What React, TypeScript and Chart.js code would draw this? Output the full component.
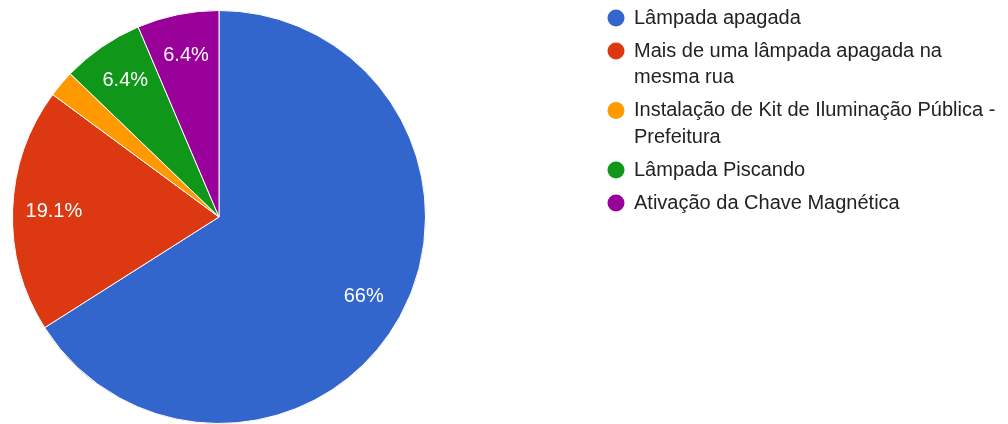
import React, { useEffect, useRef } from "react";
import { Chart, registerables } from "chart.js";

Chart.register(...registerables);

const categories: string[][] = [
  ["Lâmpada apagada"],
  ["Mais de uma lâmpada apagada na", "mesma rua"],
  ["Instalação de Kit de Iluminação Pública -", "Prefeitura"],
  ["Lâmpada Piscando"],
  ["Ativação da Chave Magnética"],
];
const percentages: number[] = [66, 19.1, 2.1, 6.4, 6.4];
const sliceLabels: string[] = ["66%", "19.1%", "", "6.4%", "6.4%"];
const colors: string[] = ["#3366cc", "#dc3912", "#ff9900", "#109618", "#990099"];

const FONT = '20px "Liberation Sans", Arial, sans-serif';

const sliceLabelPlugin = {
  id: "sliceLabels",
  afterDatasetsDraw(chart: any) {
    const ctx = chart.ctx;
    const meta = chart.getDatasetMeta(0);
    ctx.save();
    ctx.font = FONT;
    ctx.fillStyle = "#ffffff";
    ctx.textAlign = "center";
    ctx.textBaseline = "middle";
    meta.data.forEach((arc: any, i: number) => {
      const txt = sliceLabels[i];
      if (!txt) return;
      const p = arc.getProps(["x", "y", "startAngle", "endAngle", "outerRadius"], true);
      const mid = (p.startAngle + p.endAngle) / 2;
      const r = p.outerRadius * 0.8;
      ctx.fillText(txt, p.x + Math.cos(mid) * r, p.y + Math.sin(mid) * r);
    });
    ctx.restore();
  },
};

const legendPlugin = {
  id: "sideLegend",
  afterDraw(chart: any) {
    const ctx = chart.ctx;
    const labels = chart.data.labels as string[][];
    const bg = chart.data.datasets[0].backgroundColor as string[];
    const circleX = 616;
    const textX = 634;
    const lineH = 26.5;
    const itemGap = 33;
    let y = 18;
    ctx.save();
    ctx.font = FONT;
    ctx.textBaseline = "middle";
    ctx.textAlign = "left";
    labels.forEach((lines, i) => {
      ctx.beginPath();
      ctx.fillStyle = bg[i];
      ctx.arc(circleX, y, 8.5, 0, Math.PI * 2);
      ctx.fill();
      ctx.fillStyle = "#222222";
      lines.forEach((ln, j) => {
        ctx.fillText(ln, textX, y + j * lineH);
      });
      y += (lines.length - 1) * lineH + itemGap;
    });
    ctx.restore();
  },
};

export default function App() {
  const ref = useRef<HTMLCanvasElement>(null);
  useEffect(() => {
    if (!ref.current) return;
    const chart = new Chart(ref.current, {
      type: "pie",
      data: {
        labels: categories as any,
        datasets: [
          {
            data: percentages,
            backgroundColor: colors,
            borderColor: "#ffffff",
            borderWidth: 1,
          },
        ],
      },
      options: {
        responsive: false,
        animation: false,
        layout: { padding: { left: 12, top: 10, right: 582, bottom: 0 } },
        plugins: {
          legend: { display: false },
          tooltip: { enabled: true },
        },
      },
      plugins: [sliceLabelPlugin, legendPlugin],
    });
    return () => chart.destroy();
  }, []);
  return (
    <div style={{ position: "absolute", left: 0, top: 0, width: 1008, height: 424, background: "#ffffff" }}>
      <canvas ref={ref} width={1008} height={424} style={{ width: 1008, height: 424, display: "block" }} />
    </div>
  );
}
